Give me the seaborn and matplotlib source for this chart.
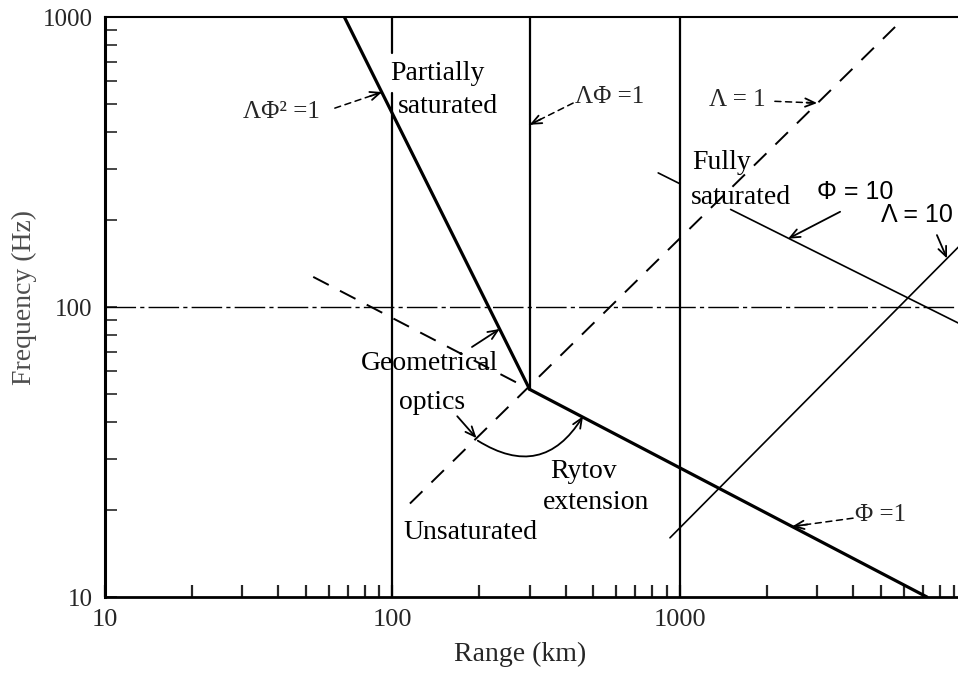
import numpy as np
import pandas as pd
import matplotlib
matplotlib.use("Agg")
import matplotlib.pyplot as plt
import seaborn as sns

# ---- regime boundaries: range (km) vs acoustic frequency (Hz) ----
# Lambda*Phi^2 = 1 (heavy line)
lam_phi2_range = [68, 300]
lam_phi2_freq = [1000, 52]
# Phi = 1 (heavy line)
phi1_range = [300, 7230]
phi1_freq = [52, 10]
# Phi = 1 continued into the geometrical-optics region (dashed)
phi1_ext_range = [53, 300]
phi1_ext_freq = [127, 52]
# Lambda = 1 (dashed)
lam1_range = [115, 5600]
lam1_freq = [21, 924]
# Phi = 10 (thin line, broken under the label)
phi10_range_a = [840, 1000]
phi10_freq_a = [290, 266]
phi10_range_b = [1500, 9300]
phi10_freq_b = [217, 88]
# Lambda = 10 (thin line)
lam10_range = [923, 9300]
lam10_freq = [16, 161]
# Lambda*Phi = 1 (vertical)
lam_phi_range = [300, 300]
lam_phi_freq = [52, 1000]
# vertical range markers
r100_lower = [10, 547]
r100_upper = [752, 1000]
r1000_freq = [10, 1000]
# 100 Hz reference line
ref_range = [10, 9300]
ref_freq = [100, 100]

x_ticks = [10, 100, 1000]
x_ticklabels = ["10", "100", "1000"]
y_ticks = [10, 100, 1000]
y_ticklabels = ["10", "100", "1000"]

sns.set_style("ticks")
plt.rcParams["font.family"] = ["Liberation Serif", "DejaVu Serif"]

fig = plt.figure(figsize=(9.58, 6.75), dpi=100)
ax = fig.add_axes([105 / 958, 78 / 675, 853 / 958, 580 / 675])
ax.set_xscale("log")
ax.set_yscale("log")


def seg(xs, ys, lw, ls="-"):
    df = pd.DataFrame({"x": xs, "y": ys})
    sns.lineplot(data=df, x="x", y="y", ax=ax, color="black", lw=lw,
                 linestyle=ls, estimator=None, sort=False)


dash = (0, (9, 6.5))
seg(lam_phi2_range, lam_phi2_freq, 2.3)
seg(phi1_range, phi1_freq, 2.3)
seg(phi1_ext_range, phi1_ext_freq, 1.4, dash)
seg(lam1_range, lam1_freq, 1.4, dash)
seg(phi10_range_a, phi10_freq_a, 1.2)
seg(phi10_range_b, phi10_freq_b, 1.2)
seg(lam10_range, lam10_freq, 1.2)
seg(lam_phi_range, lam_phi_freq, 1.6)
seg([100, 100], r100_lower, 1.6)
seg([100, 100], r100_upper, 1.6)
seg([1000, 1000], r1000_freq, 1.6)
seg(ref_range, ref_freq, 1.0, (0, (22, 3, 3, 3)))

ax.set_xlim(10, 9270)
ax.set_ylim(10, 1000)
ax.set_xticks(x_ticks)
ax.set_xticklabels(x_ticklabels, fontsize=19)
ax.set_yticks(y_ticks)
ax.set_yticklabels(y_ticklabels, fontsize=18)
ax.xaxis.set_minor_formatter(matplotlib.ticker.NullFormatter())
ax.yaxis.set_minor_formatter(matplotlib.ticker.NullFormatter())
ax.tick_params(axis="x", which="both", direction="in", length=9, width=1.6,
               pad=9, top=False)
ax.tick_params(axis="y", which="both", direction="in", length=8.5, width=1.2,
               pad=9, right=False)
for side, w in (("left", 2.2), ("bottom", 2.0), ("top", 1.5)):
    ax.spines[side].set_linewidth(w)
    ax.spines[side].set_color("black")
ax.spines["right"].set_visible(False)

ax.set_xlabel("Range (km)", fontsize=20)
ax.xaxis.set_label_coords(0.4865, -0.078)
ax.set_ylabel("Frequency (Hz)", fontsize=20, color="0.3")
ax.yaxis.set_label_coords(-0.08, 0.517)


def log_mix(p, q, t):
    lp, lq = np.log10(p), np.log10(q)
    return tuple(10 ** (lp + t * (lq - lp)))


head = "->,head_length=0.7,head_width=0.3"


def solid_arrow(start, end, rad=0.0):
    ax.annotate("", xy=end, xytext=start,
                arrowprops=dict(arrowstyle=head, color="black", lw=1.3,
                                shrinkA=0, shrinkB=0,
                                connectionstyle=f"arc3,rad={rad}"))


def dashed_arrow(start, end):
    ax.annotate("", xy=end, xytext=start,
                arrowprops=dict(arrowstyle="-", color="black", lw=1.1,
                                linestyle=(0, (4, 3)), shrinkA=0, shrinkB=0))
    ax.annotate("", xy=end, xytext=log_mix(start, end, 0.75),
                arrowprops=dict(arrowstyle=head, color="black", lw=1.3,
                                shrinkA=0, shrinkB=0))


serif = dict(fontsize=20, color="black")
sans = dict(fontsize=18, color="black", family=["Liberation Sans", "DejaVu Sans"])

# region names
ax.text(98, 641, "Partially", ha="left", va="center", **serif)
ax.text(104, 490, "saturated", ha="left", va="center", **serif)
ax.text(1102, 314, "Fully", ha="left", va="center", **serif)
ax.text(1095, 238, "saturated", ha="left", va="center", **serif)
ax.text(135, 64, "Geometrical", ha="center", va="center", **serif)
ax.text(137, 47, "optics", ha="center", va="center", **serif)
ax.text(460, 27, "Rytov", ha="center", va="center", **serif)
ax.text(510, 21.1, "extension", ha="center", va="center", **serif)
ax.text(187, 16.7, "Unsaturated", ha="center", va="center", **serif)

# boundary labels
ax.text(41, 470, "ΛΦ² =1", ha="center", va="center", fontsize=18)
dashed_arrow((63, 485), (92, 551))
ax.text(571, 530, "ΛΦ =1", ha="center", va="center", fontsize=18)
dashed_arrow((425, 505), (300, 425))
ax.text(1578, 518, "Λ = 1", ha="center", va="center", fontsize=18)
dashed_arrow((2138, 512), (3000, 505))
ax.text(4064, 249, "Φ = 10", ha="center", va="center", **sans)
solid_arrow((3606, 213), (2377, 172))
ax.text(6670, 208, "Λ = 10", ha="center", va="center", **sans)
solid_arrow((7830, 177), (8490, 147))
ax.text(5000, 19.2, "Φ =1", ha="center", va="center", fontsize=18)
dashed_arrow((4000, 18.7), (2455, 17.5))

# geometrical optics / Rytov arrows
solid_arrow((189, 72.8), (236, 84))
solid_arrow((168, 42), (196, 35.3))
solid_arrow((198, 34.6), (460, 42), rad=0.5)

fig.savefig("out.png", dpi=100)
